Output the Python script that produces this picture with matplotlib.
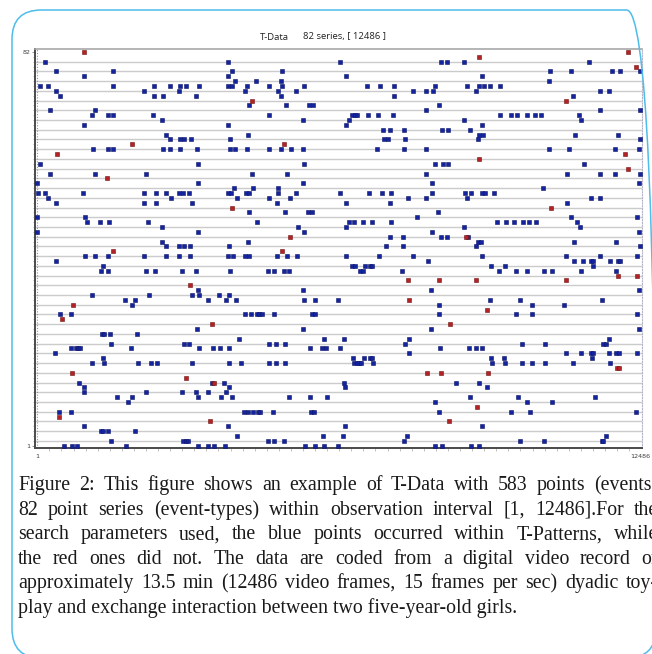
import numpy as np
import matplotlib
matplotlib.use("Agg")
import matplotlib.pyplot as plt
from matplotlib.patches import FancyBboxPatch

W, H = 652, 654

# ---------------- data: event times (video frames) per series ----------------
n_series = 82
n_frames = 12486
title_left = "T-Data"
title_right = "82 series, [ 12486 ]"

blue_events = {
    80: [160, 3942, 6261, 8364, 8488, 8840, 11421],
    78: [394, 1568, 4038, 5066, 10620, 11055, 11897, 12057, 12480],
    77: [974, 3955, 6385, 9213],
    76: [4093, 4528, 5046, 10587],
    75: [57, 222, 1568, 2410, 2742, 2949, 3085, 3342, 3955, 4031, 4348, 4797, 5060, 5522, 6832, 7095, 7378, 8240, 8896, 9138, 9248, 9378, 9579],
    74: [394, 2210, 2928, 4300, 4977, 5350, 7772, 8041, 8186, 9082, 11649, 11829],
    73: [477, 2423, 2597, 3292, 5046, 7378, 11096],
    71: [4389, 5143, 5625, 5714, 8316],
    70: [264, 1202, 8053, 11655, 12470],
    69: [1133, 1458, 1568, 2396, 4791, 6515, 6571, 6613, 6840, 7047, 7364, 9573, 9813, 9937, 10138, 10297, 10428, 11208],
    68: [2582, 5507, 6447, 8840, 11249],
    67: [974, 3955, 6385, 9213],
    66: [7157, 7296, 7592, 8378, 8503, 8958],
    65: [2659, 4369, 9138, 9227, 11125, 12015],
    64: [2742, 2961, 3044, 3183, 3984, 7171, 7267, 7619, 9117, 12475],
    62: [1154, 1458, 1568, 2597, 2742, 2949, 3313, 3984, 4100, 4348, 4797, 5046, 5259, 5495, 7039, 7598, 8047, 10587, 11007, 11953, 12456],
    59: [57, 3334, 5522, 8240, 8393, 8503, 11311],
    57: [264, 1202, 2251, 4452, 5164, 8053, 10966, 11655, 11953, 12470],
    55: [1, 3327, 5507, 8171, 12460],
    54: [4079, 4460, 4990, 10463],
    53: [9, 160, 953, 2210, 2458, 2671, 2934, 3017, 3135, 3955, 4011, 4321, 4383, 4977, 5362, 6261, 6861, 7136, 7323, 8165, 8854, 8979, 9213, 9275, 9448],
    52: [222, 2775, 4135, 4791, 5238, 7681, 8041, 8896, 11463, 11649],
    51: [394, 2210, 2464, 3210, 4969, 6385, 7296, 10960],
    49: [4377, 5135, 5598, 5687, 8289],
    48: [1, 982, 7855, 11049, 12409],
    47: [1024, 1305, 1491, 2286, 4555, 6459, 6557, 6737, 6936, 7316, 9511, 9697, 9862, 10055, 10185, 10318, 11179],
    46: [2582, 5391, 6397, 8827, 11229],
    45: [1, 3327, 5515, 8165, 12456],
    44: [7302, 7565, 8364, 8488, 8923],
    43: [2589, 4356, 9130, 9179, 11104, 11974],
    42: [2665, 2928, 3031, 3162, 3975, 7213, 7565, 9082, 12470],
    40: [988, 1195, 1471, 2210, 2671, 2928, 3162, 3955, 4052, 4300, 4383, 4969, 5164, 5383, 6385, 7080, 7772, 9213, 10939, 11649, 12421],
    39: [394, 8082, 11104, 11291, 11469, 11510, 11856, 12015, 12057],
    38: [1355, 6515, 6584, 6778, 6894, 6936, 9386, 9676, 11498],
    37: [1320, 1464, 2251, 2437, 2990, 3292, 3990, 4776, 4901, 5101, 5205, 6687, 6737, 7550, 9558, 9904, 10138, 10483, 10661, 11256, 11980],
    33: [3327, 5507, 8157, 12456],
    32: [1127, 2319, 3197, 3348, 3756, 3969],
    31: [1823, 2030, 3534, 3901, 4108, 5522, 5743, 6232, 9372, 9987, 11697],
    30: [1955, 8322, 10241, 10898],
    28: [471, 705, 4307, 4425, 4543, 4590, 4646, 4894, 5687, 5749, 8322, 9904, 10235, 12415],
    25: [3313, 5501, 8151, 12456],
    24: [1334, 1382, 1512, 2071],
    23: [4182, 5929, 6356, 7689, 11829],
    22: [1533, 3038, 3135, 4797, 4936, 5135, 7619, 10028, 10517, 11705, 11773],
    21: [692, 796, 850, 885, 1941, 3342, 3632, 3783, 3963, 5652, 5894, 5983, 6273, 8331, 8937, 9088, 9200],
    20: [361, 7701, 10945, 11262, 11456, 11498, 11829, 11986, 12036, 12421],
    19: [1355, 6530, 6757, 6894, 6929, 9386, 9662, 11483],
    18: [1133, 1382, 2092, 2348, 2485, 3197, 3975, 4218, 4797, 4936, 5135, 6563, 6613, 6660, 6708, 6950, 9407, 9689, 10034, 10235, 10517, 11096, 11850],
    14: [870, 3624, 3872, 6350, 8674, 9138],
    13: [968, 3963, 6377, 9304],
    12: [961, 2251, 2990, 3286, 3534, 3901],
    11: [1645, 1955, 3334, 3797, 4038, 5217, 5640, 5992, 8958, 9945, 11552],
    10: [1872, 8233, 10144, 10661],
    8: [456, 692, 4273, 4369, 4472, 4570, 4611, 4886, 5667, 5735, 8316, 9813, 10200, 12400],
    5: [974, 3955, 6377, 9213],
    4: [1326, 1367, 1471, 2017],
    3: [4135, 5915, 6323, 7648, 11773],
    2: [1520, 3023, 3073, 3114, 4783, 4907, 5108, 7592, 9993, 10490, 11697, 11717],
    1: [560, 713, 829, 1837, 3327, 3528, 3665, 3893, 5536, 5743, 5936, 6226, 8240, 8372, 8985, 9138],
}

red_events = {
    82: [961, 12233],
    81: [9150],
    79: [12394],
    72: [4452, 10951],
    63: [1961, 5101],
    61: [409, 12173],
    60: [9144],
    58: [12234],
    56: [1450],
    50: [4038, 10635],
    44: [5226, 8881],
    41: [1574, 5072],
    36: [12021, 12421],
    35: [7674, 8322, 9082, 10945],
    34: [3168],
    31: [7695],
    30: [746],
    29: [9304],
    27: [512],
    26: [3617, 8550],
    17: [12007, 12048],
    16: [726, 8074, 8364, 9324],
    15: [3085],
    14: [3659],
    9: [9109],
    7: [456],
    6: [3570, 8517],
}

caption_lines = [
    "Figure 2: This figure shows an example of T-Data with 583 points (events)",
    "82 point series (event-types) within observation interval [1, 12486].For the",
    "search parameters used, the blue points occurred within T-Patterns, while",
    "the red ones did not. The data are coded from a digital video record of",
    "approximately 13.5 min (12486 video frames, 15 frames per sec) dyadic toy-",
    "play and exchange interaction between two five-year-old girls.",
]


def flatten(ev):
    xs, ys = [], []
    for s, frames in ev.items():
        for f in frames:
            xs.append(f)
            ys.append(s)
    return np.array(xs), np.array(ys)


bx, by = flatten(blue_events)
rx, ry = flatten(red_events)

# ---------------- figure ----------------
fig = plt.figure(figsize=(W / 100, H / 100), dpi=100)
fig.patch.set_facecolor("white")


def fx(px):
    return px / W


def fy(py):
    return 1 - py / H


# axes placement (pixels)
ax_l, ax_r, ax_t, ax_b = 35.0, 641.5, 49.0, 447.5
ax = fig.add_axes([fx(ax_l), fy(ax_b), (ax_r - ax_l) / W, (ax_b - ax_t) / H])

# data <-> pixel mapping: frame 1 at x=37.3, frame 12486 at x=640.5; row 1 at y=445.7, row 82 at y=52
fpp = (n_frames - 1) / (640.5 - 37.3)
rpp = (n_series - 1) / (445.7 - 52.0)
ax.set_xlim(1 - (37.3 - ax_l) * fpp, n_frames + (ax_r - 640.5) * fpp)
ax.set_ylim(1 - (ax_b - 445.7) * rpp, n_series + (52.0 - ax_t) * rpp)

for r in range(2, n_series, 2):
    ax.axhline(r, color="#cbcbcb", lw=1.0, zorder=1)

ax.plot(bx, by, ls="none", marker="s", ms=3.3, mfc="#14239e", mec="#0c1568",
        mew=0.4, zorder=3, clip_on=False)
ax.plot(rx, ry, ls="none", marker="s", ms=3.3, mfc="#b42226", mec="#701212",
        mew=0.4, zorder=4, clip_on=False)

# spines
ax.spines["left"].set_color("#4a4a4a")
ax.spines["left"].set_linewidth(1.4)
ax.spines["bottom"].set_color("#4a4a4a")
ax.spines["bottom"].set_linewidth(1.4)
ax.spines["top"].set_color("#a8a8a8")
ax.spines["top"].set_linewidth(1.2)
ax.spines["right"].set_color("#b4b4c8")
ax.spines["right"].set_linewidth(0.8)
ax.spines["right"].set_linestyle((0, (1, 1.5)))

# dotted inner line along the left axis
ax.axvline(1, color="#8c8cd0", lw=0.8, ls=(0, (1, 1.5)), zorder=2)

ax.set_xticks([1, n_frames])
ax.set_xticklabels(["1", "12486"], fontsize=4.6, color="#404040",
                   family="DejaVu Sans")
ax.set_xticks(np.arange(1, n_frames, 250), minor=True)
ax.tick_params(axis="x", which="major", length=0, pad=5)
ax.tick_params(axis="x", which="minor", length=2.5, width=0.6, color="#b8b8b8",
               direction="out")

ax.set_yticks([1, n_series])
ax.set_yticklabels(["1", "82"], fontsize=4.6, color="#404040",
                   family="DejaVu Sans")
ax.set_yticks(np.arange(1, n_series + 1), minor=True)
ax.tick_params(axis="y", which="major", length=2, width=0.6, color="#808080",
               pad=1.5)
ax.tick_params(axis="y", which="minor", length=1.5, width=0.5, color="#9090b8",
               direction="out")

# title
fig.text(fx(289), fy(37), title_left, ha="right", va="center", fontsize=6.8,
         family="Open Sans", color="#222222")
fig.text(fx(303), fy(37), title_right, ha="left", va="center", fontsize=6.8,
         family="Open Sans", color="#222222")

# rounded border
box = FancyBboxPatch((fx(12), fy(658)), fx(656) - fx(12), fy(10) - fy(658),
                     boxstyle="round,pad=0,rounding_size=0.045",
                     transform=fig.transFigure, fill=False,
                     edgecolor="#4dbdea", lw=1.1, clip_on=False)
fig.add_artist(box)

# caption (justified lines 1-5, cut by the image edge as in the source)
fig.canvas.draw()
renderer = fig.canvas.get_renderer()
cap_left, cap_right = 18.0, 658.0
base0, pitch = 490.0, 24.6
cap_kw = dict(fontsize=14.3, family="Liberation Serif", color="#1a1a1a",
              va="baseline", ha="left")
for i, line in enumerate(caption_lines):
    yb = fy(base0 + i * pitch)
    if i < len(caption_lines) - 1:
        words = line.split(" ")
        texts = [fig.text(0, yb, w, **cap_kw) for w in words]
        widths = [t.get_window_extent(renderer).width for t in texts]
        gap = (cap_right - cap_left - sum(widths)) / (len(words) - 1)
        xcur = cap_left
        for t, wd in zip(texts, widths):
            t.set_x(fx(xcur))
            xcur += wd + gap
    else:
        fig.text(fx(cap_left), yb, line, **cap_kw)

fig.savefig("out.png", dpi=100, facecolor="white")
